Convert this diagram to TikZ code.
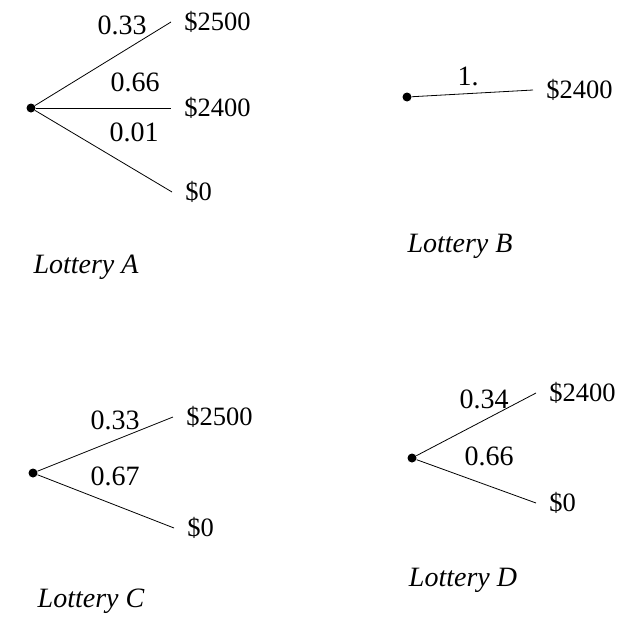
\documentclass[tikz,border=0pt]{standalone}
\usepackage{fontspec}
\setmainfont{Liberation Serif}
\usetikzlibrary{positioning}
\tikzset{
  chance/.style={circle, fill=black, inner sep=0pt, minimum size=9pt},
  pay/.style={anchor=west, inner xsep=13pt, inner ysep=0pt, font=\fontsize{26.5}{30}\selectfont},
  prob/.style={inner sep=0pt},
  lot/.style={anchor=base, font=\fontsize{28}{30}\selectfont\itshape}
}
\begin{document}
\begin{tikzpicture}[x=1pt, y=-1pt, line width=0.8pt, font=\fontsize{28}{30}\selectfont]
\useasboundingbox (0,0) rectangle (617,616);
% Lottery A
\node[chance] (a) at (31,108) {};
\node[pay] (a1) at (171,22) {\$2500};
\node[pay] (a2) at (171,108) {\$2400};
\node[pay] (a3) at (172,192) {\$0};
\foreach \o in {a1,a2,a3} \draw (a) -- (\o.west);
\node[prob] (pa1) at (122,25) {0.33};
\node[prob] (pa2) at (135,82) {0.66};
\node[prob] (pa3) at (134,132) {0.01};
\node[lot] (la) at (86,273) {Lottery A};
% Lottery B
\node[chance] (b) at (407,97) {};
\node[pay] (b1) at (533,90) {\$2400};
\draw (b) -- (b1.west);
\node[prob] (pb1) at (468,76) {1.};
\node[lot] (lb) at (460,252) {Lottery B};
% Lottery C
\node[chance] (c) at (33,473) {};
\node[pay] (c1) at (173,417) {\$2500};
\node[pay] (c2) at (174,528) {\$0};
\foreach \o in {c1,c2} \draw (c) -- (\o.west);
\node[prob] (pc1) at (115,420) {0.33};
\node[prob] (pc2) at (115,476) {0.67};
\node[lot] (lc) at (91,607) {Lottery C};
% Lottery D
\node[chance] (d) at (412,458) {};
\node[pay] (d1) at (536,393) {\$2400};
\node[pay] (d2) at (536,503) {\$0};
\foreach \o in {d1,d2} \draw (d) -- (\o.west);
\node[prob] (pd1) at (484,399) {0.34};
\node[prob] (pd2) at (489,456) {0.66};
\node[lot] (ld) at (463,586) {Lottery D};
\end{tikzpicture}
\end{document}
